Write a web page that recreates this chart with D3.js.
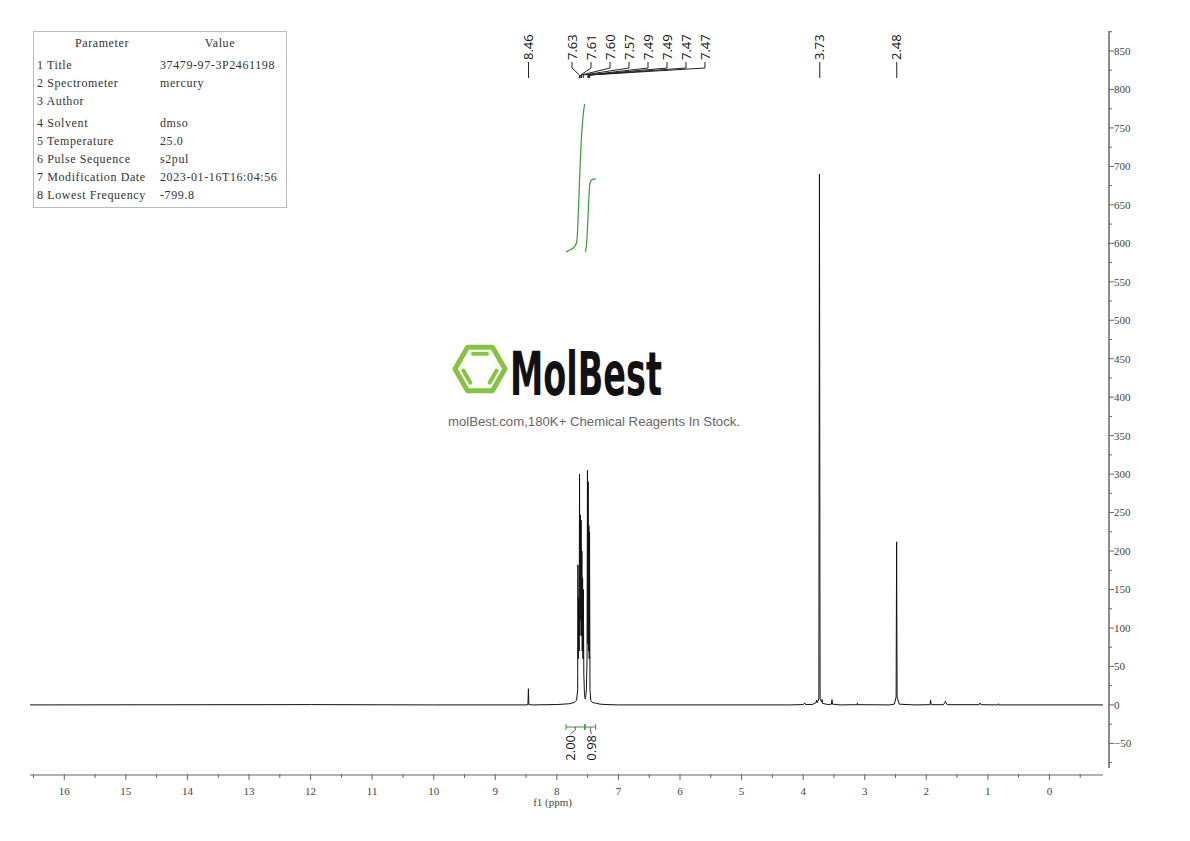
<!DOCTYPE html>
<html>
<head>
<meta charset="utf-8">
<script src="https://cdn.jsdelivr.net/npm/d3@7"></script>
<style>
  body { margin: 0; background: #fff; }
  svg { display: block; }
</style>
</head>
<body>
<div id="chart"></div>
<script>
// ---- data ----
const paramNames = ['1 Title', '2 Spectrometer', '3 Author', '4 Solvent', '5 Temperature',
    '6 Pulse Sequence', '7 Modification Date', '8 Lowest Frequency'];
const paramValues = ['37479-97-3P2461198', 'mercury', '', 'dmso', '25.0',
    's2pul', '2023-01-16T16:04:56', '-799.8'];

// spectrum trace: chemical shift (ppm) and intensity
const shiftPpm = [16.557, 12.0, 10.0, 8.50, 8.470, 8.462, 8.455, 8.40, 8.0, 7.80, 7.72, 7.68,
    7.662, 7.658, 7.652, 7.645, 7.638, 7.632, 7.625, 7.618, 7.612, 7.606, 7.600, 7.594, 7.588,
    7.582, 7.576, 7.570, 7.562, 7.552, 7.540, 7.530, 7.520, 7.510, 7.503, 7.497, 7.492, 7.486,
    7.480, 7.474, 7.469, 7.462, 7.450, 7.42, 7.35, 7.30, 7.20, 7.00, 4.20, 4.00, 3.972, 3.960,
    3.85, 3.790, 3.782, 3.772, 3.745, 3.735, 3.725, 3.700, 3.692, 3.684, 3.60, 3.540, 3.532,
    3.524, 3.40, 3.124, 3.118, 3.112, 2.60, 2.520, 2.490, 2.482, 2.474, 2.440, 2.20, 1.940,
    1.930, 1.920, 1.720, 1.700, 1.690, 1.680, 1.660, 1.140, 1.125, 1.110, 0.840, 0.830, 0.820, -0.87];
const intensity = [0, 0.4, 0, 0, 0.5, 21, 0.5, 0, 0.5, 1.5, 3, 6,
    20, 182, 60, 140, 70, 300, 90, 247, 110, 240, 90, 200, 70,
    165, 60, 150, 40, 15, 8, 12, 20, 60, 305, 80, 290, 70,
    233, 60, 225, 20, 6, 3, 2, 1, 0.5, 0, 0, 0.5, 2.5, 0.5,
    0.5, 3, 6, 3, 8, 690, 8, 4, 7, 2, 0.5, 1, 7,
    1, 0, 0.3, 2.5, 0.3, 0, 1, 10, 212, 10, 1, 0, 0.3,
    6, 0.3, 0.3, 3, 5, 3, 0.3, 0.3, 2.5, 0.3, 0, 1.5, 0, 0];

// peak picking labels
const peakLabels = ['8.46', '7.63', '7.61', '7.60', '7.57', '7.49', '7.49', '7.47', '7.47', '3.73', '2.48'];
const peakShifts = [8.46, 7.632, 7.612, 7.600, 7.570, 7.494, 7.489, 7.474, 7.468, 3.73, 2.48];
const peakGroups = [0, 1, 1, 1, 1, 1, 1, 1, 1, 2, 3];

// integrals: ranges, values and curve points (ppm, level on intensity scale)
const integralFrom = [7.85, 7.54];
const integralTo = [7.55, 7.37];
const integralValues = ['2.00', '0.98'];
const integralCurve1 = [[7.85, 589], [7.76, 592], [7.70, 596], [7.67, 602], [7.66, 622],
    [7.64, 664], [7.62, 706], [7.60, 742], [7.57, 770], [7.55, 781]];
const integralCurve2 = [[7.54, 589], [7.52, 593], [7.50, 622], [7.48, 662], [7.465, 680],
    [7.44, 683], [7.37, 684]];

const xTicks = d3.range(0, 17, 1);
const xMinorTicks = d3.range(-0.5, 16.6, 0.5);
const yTicks = d3.range(-50, 851, 50);
const yMinorTicks = d3.range(-75, 876, 25);

class NmrChart {
    constructor(parent) {
        this.config = {
            parentElement: parent,
            containerWidth: 1190,
            containerHeight: 841,
            plotLeft: 30,
            plotRight: 1103,
            yAxisX: 1109,
            yTop: 31,
            yBottom: 768,
            xAxisY: 775
        };
        this.initVis();
    }

    initVis() {
        let vis = this;
        const c = vis.config;

        vis.svg = d3.select(c.parentElement).append('svg')
            .attr('width', c.containerWidth)
            .attr('height', c.containerHeight);

        vis.x = d3.scaleLinear().domain([16.557, -0.87]).range([c.plotLeft, c.plotRight]);
        vis.y = d3.scaleLinear().domain([-82, 876]).range([c.yBottom, c.yTop]);

        vis.drawWatermark();
        vis.drawTable();
        vis.drawAxes();
        vis.drawSpectrum();
        vis.drawIntegrals();
        vis.drawPeakLabels();
    }

    drawTable() {
        let vis = this;
        const g = vis.svg.append('g').attr('class', 'params');
        g.append('rect')
            .attr('x', 33.5).attr('y', 31.5)
            .attr('width', 253).attr('height', 176)
            .attr('fill', 'none')
            .attr('stroke', '#bbb');

        const font = '"Liberation Serif", serif';
        g.append('text').attr('x', 102).attr('y', 47)
            .attr('text-anchor', 'middle')
            .style('font', `12px ${font}`).attr('fill', '#333')
            .attr('letter-spacing', 0.6).text('Parameter');
        g.append('text').attr('x', 220).attr('y', 47)
            .attr('text-anchor', 'middle')
            .style('font', `12px ${font}`).attr('fill', '#333')
            .attr('letter-spacing', 0.6).text('Value');

        const rowY = [69, 87, 105, 127, 145, 163, 181, 199];
        paramNames.forEach((name, i) => {
            g.append('text').attr('x', 37).attr('y', rowY[i])
                .style('font', `12px ${font}`).attr('fill', '#333')
                .attr('letter-spacing', 0.6).text(name);
            g.append('text').attr('x', 160).attr('y', rowY[i])
                .style('font', `12px ${font}`).attr('fill', '#333')
                .attr('letter-spacing', 0.6).text(paramValues[i]);
        });
    }

    drawWatermark() {
        let vis = this;
        const g = vis.svg.append('g').attr('class', 'watermark');
        const green = '#86c440';
        const cx = 480, cy = 369, r = 25;
        const pts = d3.range(6).map(i => {
            const a = Math.PI / 3 * i;
            return [cx + r * Math.cos(a), cy + r * Math.sin(a)];
        });
        g.append('path')
            .attr('d', d3.line()(pts) + 'Z')
            .attr('fill', 'none').attr('stroke', green)
            .attr('stroke-width', 5).attr('stroke-linejoin', 'round');

        // inner bonds: top, lower-left, lower-right
        [[4, 5], [2, 3], [0, 1]].forEach(([a, b]) => {
            const k = 0.7;
            const p = pts[a].map((v, j) => (j ? cy : cx) + (v - (j ? cy : cx)) * k);
            const q = pts[b].map((v, j) => (j ? cy : cx) + (v - (j ? cy : cx)) * k);
            const s = 0.1;
            g.append('line')
                .attr('x1', p[0] + (q[0] - p[0]) * s).attr('y1', p[1] + (q[1] - p[1]) * s)
                .attr('x2', q[0] - (q[0] - p[0]) * s).attr('y2', q[1] - (q[1] - p[1]) * s)
                .attr('stroke', green).attr('stroke-width', 4)
                .attr('stroke-linecap', 'round');
        });

        g.append('text')
            .attr('x', 510).attr('y', 395)
            .attr('textLength', 152).attr('lengthAdjust', 'spacingAndGlyphs')
            .style('font', 'bold 60px "DejaVu Sans Condensed", "DejaVu Sans", sans-serif')
            .attr('fill', '#111')
            .text('MolBest');

        g.append('text')
            .attr('x', 594).attr('y', 426)
            .attr('text-anchor', 'middle')
            .attr('textLength', 292).attr('lengthAdjust', 'spacingAndGlyphs')
            .style('font', '13px "Liberation Sans", Arial, sans-serif')
            .attr('fill', '#666')
            .text('molBest.com,180K+ Chemical Reagents In Stock.');
    }

    drawAxes() {
        let vis = this;
        const c = vis.config;
        const axisColor = '#666';
        const tickFont = '11px "Liberation Serif", serif';

        // bottom ppm axis
        const xg = vis.svg.append('g').attr('class', 'x-axis');
        xg.append('line')
            .attr('x1', c.plotLeft).attr('x2', c.plotRight)
            .attr('y1', c.xAxisY).attr('y2', c.xAxisY)
            .attr('stroke', axisColor).attr('stroke-width', 1.2);
        xg.selectAll('.minor').data(xMinorTicks.filter(d => !Number.isInteger(d)))
            .join('line').attr('class', 'minor')
            .attr('x1', d => vis.x(d)).attr('x2', d => vis.x(d))
            .attr('y1', c.xAxisY - 1).attr('y2', c.xAxisY + 3)
            .attr('stroke', axisColor);
        xg.selectAll('.major').data(xTicks)
            .join('line').attr('class', 'major')
            .attr('x1', d => vis.x(d)).attr('x2', d => vis.x(d))
            .attr('y1', c.xAxisY - 1).attr('y2', c.xAxisY + 5)
            .attr('stroke', axisColor);
        xg.selectAll('.label').data(xTicks)
            .join('text').attr('class', 'label')
            .attr('x', d => vis.x(d)).attr('y', c.xAxisY + 20)
            .attr('text-anchor', 'middle')
            .style('font', tickFont).attr('fill', '#444')
            .text(d => d);
        xg.append('text')
            .attr('x', vis.x(8.07)).attr('y', c.xAxisY + 31)
            .attr('text-anchor', 'middle')
            .style('font', tickFont).attr('fill', '#444')
            .text('f1 (ppm)');

        // right intensity axis
        const yg = vis.svg.append('g').attr('class', 'y-axis');
        yg.append('line')
            .attr('x1', c.yAxisX).attr('x2', c.yAxisX)
            .attr('y1', c.yTop).attr('y2', c.yBottom)
            .attr('stroke', axisColor).attr('stroke-width', 1.5);
        yg.selectAll('.minor').data(yMinorTicks.filter(d => d % 50 !== 0))
            .join('line').attr('class', 'minor')
            .attr('x1', c.yAxisX).attr('x2', c.yAxisX + 3)
            .attr('y1', d => vis.y(d)).attr('y2', d => vis.y(d))
            .attr('stroke', axisColor);
        yg.selectAll('.major').data(yTicks)
            .join('line').attr('class', 'major')
            .attr('x1', c.yAxisX).attr('x2', c.yAxisX + 5)
            .attr('y1', d => vis.y(d)).attr('y2', d => vis.y(d))
            .attr('stroke', axisColor);
        yg.selectAll('.label').data(yTicks)
            .join('text').attr('class', 'label')
            .attr('x', c.yAxisX + 5).attr('y', d => vis.y(d))
            .attr('dy', '0.35em')
            .style('font', tickFont).attr('fill', '#444')
            .text(d => d < 0 ? '\u2212' + Math.abs(d) : d);
    }

    drawSpectrum() {
        let vis = this;
        const pts = shiftPpm.map((p, i) => [p, intensity[i]]);
        vis.svg.append('path')
            .attr('class', 'spectrum')
            .attr('d', d3.line().x(d => vis.x(d[0])).y(d => vis.y(d[1]))(pts))
            .attr('fill', 'none')
            .attr('stroke', '#111')
            .attr('stroke-width', 1);
    }

    drawIntegrals() {
        let vis = this;
        const green = '#3a9a3a';
        const g = vis.svg.append('g').attr('class', 'integrals');
        [integralCurve1, integralCurve2].forEach(curve => {
            g.append('path')
                .attr('d', d3.line().curve(d3.curveBasis).x(d => vis.x(d[0])).y(d => vis.y(d[1]))(curve))
                .attr('fill', 'none').attr('stroke', green).attr('stroke-width', 1.2);
        });

        const by = 727;
        integralFrom.forEach((f, i) => {
            const x1 = vis.x(f), x2 = vis.x(integralTo[i]);
            g.append('line').attr('x1', x1).attr('x2', x2).attr('y1', by).attr('y2', by)
                .attr('stroke', green);
            [x1, x2].forEach(xx => g.append('line')
                .attr('x1', xx).attr('x2', xx).attr('y1', by - 3).attr('y2', by + 3)
                .attr('stroke', green));
            const mid = (x1 + x2) / 2;
            const lx = i === 0 ? mid - 5 : mid + 1;
            g.append('path')
                .attr('d', `M${mid},${by}L${mid},${by + 3}L${lx},${by + 7}`)
                .attr('fill', 'none').attr('stroke', '#333').attr('stroke-width', 0.8);
            g.append('text')
                .attr('transform', `translate(${lx},${by + 8}) rotate(-90)`)
                .attr('text-anchor', 'end').attr('dy', '0.35em')
                .style('font', '13px "Open Sans", sans-serif')
                .attr('fill', '#111')
                .text(integralValues[i]);
        });
    }

    drawPeakLabels() {
        let vis = this;
        const g = vis.svg.append('g').attr('class', 'peak-labels');
        const textBottom = 62, bendTop = 68, bendBottom = 75, lineBottom = 78;
        let clusterIndex = 0;
        peakLabels.forEach((lab, i) => {
            const px = vis.x(peakShifts[i]);
            let lx = px;
            if (peakGroups[i] === 1) {
                lx = 572 + clusterIndex * 19;
                clusterIndex++;
            }
            g.append('path')
                .attr('d', `M${px},${lineBottom}L${px},${bendBottom}L${lx},${bendTop}L${lx},${textBottom}`)
                .attr('fill', 'none').attr('stroke', '#222').attr('stroke-width', 1);
            g.append('text')
                .attr('transform', `translate(${lx},${textBottom - 2}) rotate(-90)`)
                .attr('dy', '0.35em')
                .style('font', '13px "Open Sans", sans-serif')
                .attr('fill', '#111')
                .text(lab);
        });
    }
}

new NmrChart('#chart');
</script>
</body>
</html>
